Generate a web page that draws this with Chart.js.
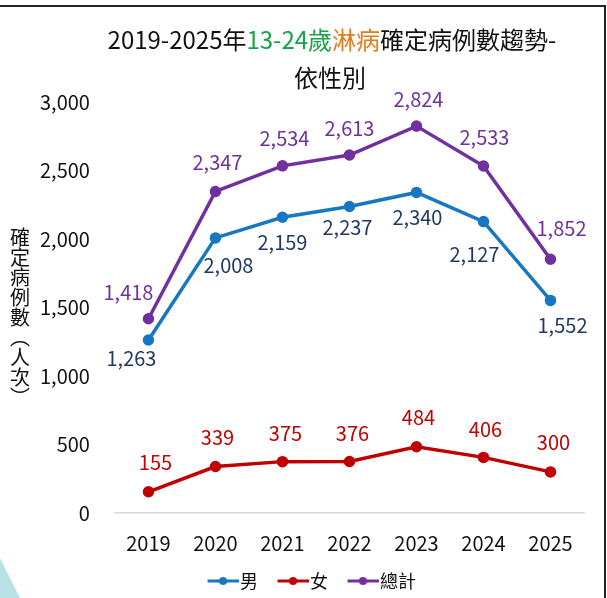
<!DOCTYPE html>
<html>
<head>
<meta charset="utf-8">
<script src="https://cdn.jsdelivr.net/npm/chart.js@4.4.1/dist/chart.umd.min.js"></script>
<style>
  html, body { margin: 0; padding: 0; background: #fff; }
  #wrap { position: relative; width: 607px; height: 598px; overflow: hidden; }
  #frame { position: absolute; left: -4px; top: 5px; width: 610px; height: 610px;
           border-top: 2px solid #222; border-right: 2px solid #222; box-sizing: border-box; pointer-events: none; }
  #tri { position: absolute; left: 0; bottom: 0; width: 20px; height: 40px; background: #b9e2e6;
         clip-path: polygon(0 0, 100% 100%, 0 100%); }
  canvas { position: absolute; left: 0; top: 0; }
</style>
</head>
<body>
<div id="wrap">
  <canvas id="trendChart" width="607" height="598"></canvas>
  <div id="frame"></div>
  <div id="tri"></div>
</div>
<script>
const years = ['2019', '2020', '2021', '2022', '2023', '2024', '2025'];
const male = [1263, 2008, 2159, 2237, 2340, 2127, 1552];
const female = [155, 339, 375, 376, 484, 406, 300];
const total = [1418, 2347, 2534, 2613, 2824, 2533, 1852];
const seriesNames = ['男', '女', '總計'];
const yTicks = [0, 500, 1000, 1500, 2000, 2500, 3000];

const FONT = "'Noto Sans CJK TC', 'Noto Sans', sans-serif";

// label placement relative to each point (dx, dy)
const labelOffsets = [
  [[-17, 18], [13, 28], [0, 25], [-2, 21], [1, 25], [-9, 33], [12, 25]],
  [[7, -29], [2, -29], [3, -28], [3, -28], [2, -29], [2, -28], [3, -29]],
  [[-20, -26], [2, -29], [2, -27], [0, -27], [2, -27], [1, -29], [11, -31]]
];
const lineColors = ['#1777c2', '#c00000', '#7030a0'];
const labelColors = ['#1f3864', '#c00000', '#7030a0'];

// legend marker: line with a dot, drawn at the right of a wide image
// so the marker sits right next to its text
function legendIcon(color) {
  const c = document.createElement('canvas');
  c.width = 53; c.height = 10;
  const g = c.getContext('2d');
  g.strokeStyle = color; g.lineWidth = 3;
  g.beginPath(); g.moveTo(22, 5); g.lineTo(53, 5); g.stroke();
  g.fillStyle = color;
  g.beginPath(); g.arc(37.5, 5, 4, 0, Math.PI * 2); g.fill();
  return c;
}

const fmt = v => v.toLocaleString('en-US');

const valueLabels = {
  id: 'valueLabels',
  afterDatasetsDraw(chart) {
    const ctx = chart.ctx;
    ctx.save();
    ctx.font = '20px ' + FONT;
    ctx.textAlign = 'center';
    ctx.textBaseline = 'middle';
    chart.data.datasets.forEach((ds, di) => {
      chart.getDatasetMeta(di).data.forEach((pt, i) => {
        const off = labelOffsets[di][i];
        ctx.fillStyle = labelColors[di];
        ctx.fillText(fmt(ds.data[i]), pt.x + off[0], pt.y + off[1]);
      });
    });
    ctx.restore();
  }
};

const titleAndAxis = {
  id: 'titleAndAxis',
  afterLayout(chart) {
    const lg = chart.legend;
    lg.left += 5; lg.right += 5;
    lg.top += 2; lg.bottom += 2;
  },
  afterDraw(chart) {
    const ctx = chart.ctx;
    ctx.save();
    ctx.textBaseline = 'middle';
    ctx.font = '24px ' + FONT;
    const parts = [
      ['2019-2025年', '#111'],
      ['13-24歲', '#16a34a'],
      ['淋病', '#e07b1a'],
      ['確定病例數趨勢-', '#111']
    ];
    const w = parts.reduce((s, p) => s + ctx.measureText(p[0]).width, 0);
    let x = 332 - w / 2;
    ctx.textAlign = 'left';
    parts.forEach(p => {
      ctx.fillStyle = p[1];
      ctx.fillText(p[0], x, 40);
      x += ctx.measureText(p[0]).width;
    });
    ctx.textAlign = 'center';
    ctx.fillStyle = '#111';
    ctx.fillText('依性別', 330, 78);

    ctx.font = '20px ' + FONT;
    const chars = ['確', '定', '病', '例', '數', '︵', '人', '次', '︶'];
    chars.forEach((ch, i) => ctx.fillText(ch, 20, 237 + i * 20));
    ctx.restore();
  }
};

new Chart(document.getElementById('trendChart'), {
  type: 'line',
  data: {
    labels: years,
    datasets: [male, female, total].map((d, i) => ({
      label: seriesNames[i],
      data: d,
      borderColor: lineColors[i],
      backgroundColor: lineColors[i],
      borderWidth: 3.5,
      pointRadius: 4,
      pointHoverRadius: 4,
      pointStyle: 'circle',
      tension: 0
    }))
  },
  options: {
    responsive: false,
    animation: false,
    layout: { padding: { left: 15, right: 23, top: 102, bottom: 0 } },
    plugins: {
      title: { display: false },
      tooltip: { enabled: false },
      legend: {
        position: 'bottom',
        labels: {
          usePointStyle: true,
          pointStyleWidth: 38,
          color: '#111',
          font: { size: 18, family: FONT },
          padding: 5,
          generateLabels(chart) {
            return chart.data.datasets.map((ds, i) => ({
              text: ds.label,
              pointStyle: legendIcon(lineColors[i]),
              fontColor: '#111',
              strokeStyle: lineColors[i],
              fillStyle: lineColors[i],
              lineWidth: 0,
              datasetIndex: i
            }));
          }
        }
      }
    },
    scales: {
      x: {
        offset: true,
        grid: { display: false, drawTicks: false },
        border: { display: true, color: '#d9d9d9', width: 1.5 },
        ticks: { color: '#111', font: { size: 20, family: FONT }, padding: 18 },
        afterFit(axis) { axis.height -= 8; }
      },
      y: {
        min: 0,
        max: 3000,
        afterBuildTicks(axis) { axis.ticks = yTicks.map(v => ({ value: v })); },
        grid: { display: false, drawTicks: false },
        border: { display: false },
        ticks: { color: '#111', font: { size: 20, family: FONT }, padding: 25, callback: v => fmt(v) }
      }
    }
  },
  plugins: [valueLabels, titleAndAxis]
});
</script>
</body>
</html>
